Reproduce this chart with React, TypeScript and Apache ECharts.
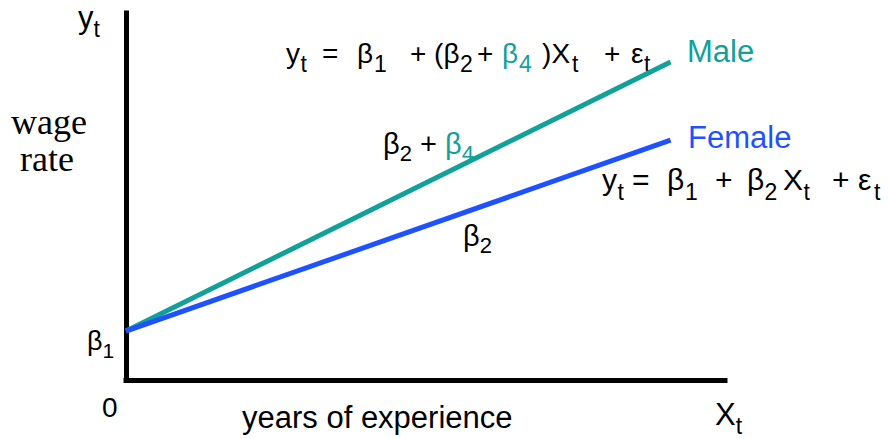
import React, { useEffect, useRef } from "react";
import * as echarts from "echarts";

// ---- data ----
const xExtent = [0, 11];
const experience = [0, 10];
const maleWage = [2, 13];
const femaleWage = [2, 9.8];
const yExtent = [0, 15];
const seriesNames = ["Male", "Female"];

const TEAL = "#12A09A";
const BLUE = "#1F52FF";
const SANS = "'Liberation Sans', Arial, sans-serif";
const SERIF = "'Liberation Serif', 'Times New Roman', serif";
const S = "\u00A0";

function richStyles(f: number, s: number, d: number) {
  const pt = Math.max(0, d + 0.85 * (f - s));
  const tok = (size: number, fill: string, padTop: number) => ({
    fontSize: size,
    fontFamily: SANS,
    fill,
    height: size,
    padding: [padTop, 0, 0, 0],
    verticalAlign: "top",
  });
  return {
    m: tok(f, "#000", 0),
    s: tok(s, "#000", pt),
    tm: tok(f, TEAL, 0),
    ts: tok(s, TEAL, pt),
  };
}

function eqText(x: number, B: number, f: number, s: number, d: number, text: string) {
  return {
    type: "text",
    x,
    y: B - 0.85 * f,
    silent: true,
    style: { text, rich: richStyles(f, s, d), align: "left", verticalAlign: "top" },
  };
}

function plainText(x: number, B: number, f: number, text: string, fill: string, family = SANS) {
  return {
    type: "text",
    x,
    y: B - 0.85 * f,
    silent: true,
    style: { text, fontSize: f, fontFamily: family, fill, height: f, align: "left", verticalAlign: "top" },
  };
}

// equation laid out piece by piece: [x, text, isSub, color?]
type Piece = [number, string, boolean, string?];
function pieces(B: number, f: number, s: number, d: number, items: Piece[]) {
  return items.map(([x, t, sub, c]) =>
    sub ? plainText(x, B + d, s, t, c || "#000") : plainText(x, B, f, t, c || "#000")
  );
}

const eq1: Piece[] = [
  [286, "y", false], [300.5, "t", true], [322, "=", false], [357, "β", false], [374, "1", true],
  [410, "+", false], [434, "(", false], [443.5, "β", false], [460, "2", true], [477, "+", false],
  [502, "β", false, TEAL], [519, "4", true, TEAL], [542, ")", false], [551.5, "X", false],
  [572, "t", true], [604, "+", false], [631, "ε", false], [644, "t", true],
];
const eq2: Piece[] = [
  [602, "y", false], [617.5, "t", true], [632, "=", false], [667, "β", false], [685, "1", true],
  [715, "+", false], [747, "β", false], [764.5, "2", true], [783, "X", false], [803.5, "t", true],
  [832, "+", false], [858, "ε", false], [874, "t", true],
];

export default function App() {
  const ref = useRef<HTMLDivElement>(null);
  useEffect(() => {
    if (!ref.current) return;
    const chart = echarts.init(ref.current, null, { renderer: "svg" });
    const axisCommon = {
      axisLine: { show: true, onZero: false, lineStyle: { color: "#000", width: 5, cap: "square" } },
      axisTick: { show: false },
      axisLabel: { show: false },
      splitLine: { show: false },
    };
    chart.setOption({
      animation: false,
      backgroundColor: "#fff",
      grid: { left: 126, right: 163, top: 13, bottom: 59, containLabel: false },
      xAxis: { type: "value", min: xExtent[0], max: xExtent[1], ...axisCommon },
      yAxis: { type: "value", min: yExtent[0], max: yExtent[1], ...axisCommon },
      series: [
        {
          name: seriesNames[0],
          type: "line",
          symbol: "none",
          lineStyle: { color: TEAL, width: 5 },
          data: experience.map((x, i) => [x, maleWage[i]]),
        },
        {
          name: seriesNames[1],
          type: "line",
          symbol: "none",
          lineStyle: { color: BLUE, width: 5 },
          data: experience.map((x, i) => [x, femaleWage[i]]),
        },
      ],
      graphic: [
        ...pieces(63, 28, 23, 9, eq1),
        ...pieces(190, 30, 23, 10, eq2),
        eqText(383, 154, 29, 22, 7, `{m|β}{s|2}{m|${S}+${S}}{tm|β}{ts|4}`),
        eqText(463, 246, 29, 22, 7, "{m|β}{s|2}"),
        eqText(87, 350, 27, 21, 8, "{m|β}{s|1}"),
        eqText(78, 28, 31, 23, 9, "{m|y}{s|t}"),
        eqText(715, 425, 31, 23, 9, "{m|X}{s|t}"),
        plainText(687, 62, 31, seriesNames[0], TEAL),
        plainText(688, 148, 31, seriesNames[1], BLUE),
        plainText(102, 417, 28, "0", "#000"),
        plainText(242, 428, 31, "years of experience", "#000"),
        plainText(11, 135, 36, "wage", "#000", SERIF),
        plainText(20, 172, 36, "rate", "#000", SERIF),
      ],
    });
    return () => chart.dispose();
  }, []);
  return <div ref={ref} style={{ width: 888, height: 439, position: "absolute", left: 0, top: 0 }} />;
}
